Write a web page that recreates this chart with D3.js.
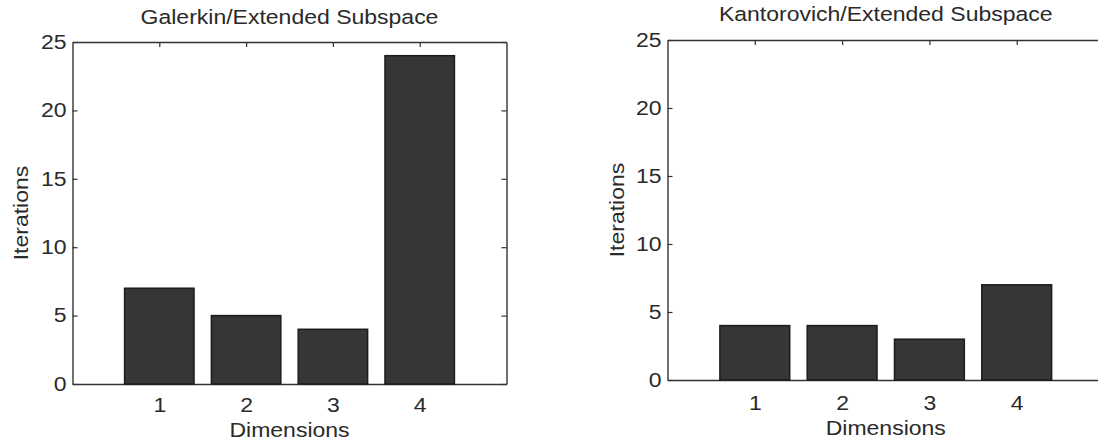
<!DOCTYPE html>
<html><head><meta charset="utf-8">
<script src="https://cdn.jsdelivr.net/npm/d3@7"></script>
<style>body{margin:0;background:#fff} svg{display:block}</style>
</head><body>
<svg id="chart" width="1098" height="445"></svg>
<script>
const dimensions = [1, 2, 3, 4];
const galerkinIterations = [7, 5, 4, 24];
const kantorovichIterations = [4, 4, 3, 7];
const yTickValues = [0, 5, 10, 15, 20, 25];
const xTickValues = [1, 2, 3, 4];
const panelTitles = ["Galerkin/Extended Subspace", "Kantorovich/Extended Subspace"];
const xAxisLabel = "Dimensions";
const yAxisLabel = "Iterations";

const FONT = "'Liberation Sans', Arial, Helvetica, sans-serif";
const FS = 19.5, SX = 1.18;
const INK = "#2a2a2a";
const svg = d3.select("#chart");

const panels = [
  {title: panelTitles[0], values: galerkinIterations, x0: 72.5, x1: 506.5, yTop: 42, yBot: 384,
   titleY: 24, xPad: 14, dimY: 437, iterX: 28},
  {title: panelTitles[1], values: kantorovichIterations, x0: 667.5, x1: 1104, yTop: 40, yBot: 380,
   titleY: 21, xPad: 16, dimY: 435, iterX: 624}
];

function stretchText(sel) {
  sel.each(function () {
    const t = d3.select(this);
    const x = +t.attr("x") || 0, y = +t.attr("y") || 0;
    t.attr("x", 0).attr("y", 0).attr("transform", `translate(${x},${y}) scale(${SX},1)`);
  });
}

function styleAxis(g) {
  g.selectAll("path.domain").attr("stroke", "#333").attr("stroke-width", 1.4);
  g.selectAll(".tick line").attr("stroke", "#333").attr("stroke-width", 1.2);
  g.selectAll(".tick text").attr("fill", INK).style("font-family", FONT).style("font-size", FS + "px");
}

panels.forEach(p => {
  const x = d3.scaleLinear().domain([0, 5]).range([p.x0, p.x1]);
  const y = d3.scaleLinear().domain([0, 25]).range([p.yBot, p.yTop]);
  const g = svg.append("g");
  const fmt = d3.format("d");

  // box axes (inward ticks)
  const gl = g.append("g").attr("transform", `translate(${p.x0},0)`)
    .call(d3.axisLeft(y).tickValues(yTickValues).tickFormat(fmt).tickSizeInner(-5).tickSizeOuter(0).tickPadding(6));
  const gb = g.append("g").attr("transform", `translate(0,${p.yBot})`)
    .call(d3.axisBottom(x).tickValues(xTickValues).tickFormat(fmt).tickSizeInner(-5).tickSizeOuter(0).tickPadding(p.xPad));
  const gt = g.append("g").attr("transform", `translate(0,${p.yTop})`)
    .call(d3.axisTop(x).tickValues(xTickValues).tickSizeInner(-5).tickSizeOuter(0).tickFormat(""));
  const gr = g.append("g").attr("transform", `translate(${p.x1},0)`)
    .call(d3.axisRight(y).tickValues(yTickValues).tickSizeInner(-5).tickSizeOuter(0).tickFormat(""));
  [gl, gb, gt, gr].forEach(a => { a.attr("font-family", null).attr("font-size", null); styleAxis(a); });
  stretchText(gl.selectAll(".tick text"));
  stretchText(gb.selectAll(".tick text"));

  // bars
  const bw = x(0.8) - x(0);
  g.append("g").selectAll("rect").data(dimensions).join("rect")
    .attr("x", (d) => x(d) - bw / 2)
    .attr("width", bw)
    .attr("y", (d, i) => y(p.values[i]))
    .attr("height", (d, i) => y(0) - y(p.values[i]))
    .attr("fill", "#363636")
    .attr("stroke", "#1c1c1c")
    .attr("stroke-width", 1.5);

  const cx = (p.x0 + p.x1) / 2, cy = (p.yTop + p.yBot) / 2;
  // title
  g.append("text").attr("transform", `translate(${cx},${p.titleY}) scale(${SX},1)`)
    .attr("text-anchor", "middle").attr("fill", INK)
    .style("font-family", FONT).style("font-size", FS + "px").text(p.title);
  // x label
  g.append("text").attr("transform", `translate(${cx},${p.dimY}) scale(${SX},1)`)
    .attr("text-anchor", "middle").attr("fill", INK)
    .style("font-family", FONT).style("font-size", FS + "px").text(xAxisLabel);
  // y label
  g.append("text").attr("transform", `translate(${p.iterX},${cy}) rotate(-90) scale(${SX},1)`)
    .attr("text-anchor", "middle").attr("fill", INK)
    .style("font-family", FONT).style("font-size", FS + "px").text(yAxisLabel);
});
</script>
</body></html>
